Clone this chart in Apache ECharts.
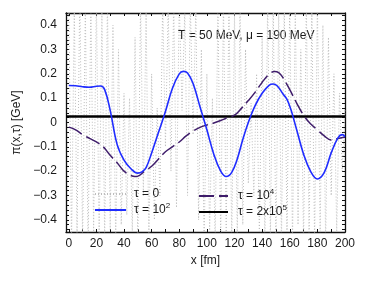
<!DOCTYPE html>
<html>
<head>
<meta charset="utf-8">
<script src="https://cdn.jsdelivr.net/npm/echarts@6/dist/echarts.min.js"></script>
<style>html,body{margin:0;padding:0;background:#fff;}#c{width:374px;height:281px;}</style>
</head>
<body>
<div id="c"></div>
<script>
// ---- data ----
const xTickLabels = [0, 20, 40, 60, 80, 100, 120, 140, 160, 180, 200];
const yTickLabels = [-0.4, -0.3, -0.2, -0.1, 0, 0.1, 0.2, 0.3, 0.4];

const tau0X = [0,2,4,6,8,10,12,14,16,18,20,22,24,26,28,30,32,34,36,
  38,40,42,44,46,48,50,52,54,56,58,60,62,64,66,
  68,70,72,74,76,78,80,82,84,86,88,90,92,94,96,98,100,102,104,
  106,108,110,112,114,116,118,120,122,124,126,128,
  130,132,134,136,138,140,
  142,144,146,148,150,152,154,156,158,160,162,164,166,168,170,172,174,176,178,180,182,184,186,188,190,192,194,196,198,200];
const tau0Y = [0.5,-0.5,0.48,-0.46,0.55,-0.5,0.47,-0.52,0.5,-0.45,0.52,-0.5,0.46,-0.48,0.5,-0.44,0.4,-0.5,0.3,
  -0.42,0.12,-0.38,0.1,-0.45,0.35,-0.5,0.5,-0.3,0.45,-0.5,0.2,-0.4,0.06,-0.3,
  0.5,-0.1,0.48,-0.2,0.5,-0.35,0.5,0.05,0.46,-0.3,0.5,-0.05,0.48,-0.4,0.3,-0.5,0.2,-0.45,0.1,
  -0.5,0.5,-0.48,0.5,-0.45,0.5,-0.5,0.45,-0.48,0.5,-0.42,0.3,
  -0.25,0.08,-0.3,0.2,-0.46,0.35,
  -0.5,0.5,-0.48,0.5,-0.5,0.46,-0.5,0.5,-0.45,0.5,-0.5,0.48,-0.42,0.3,-0.5,0.5,-0.48,0.45,-0.5,0.5,-0.46,0.4,-0.5,0.35,-0.3,0.2,-0.45,0.12,-0.2,0.05];

const tau2X = [0,5,10,15,20,23,26,30,35,40,45,50,53,56,60,65,70,75,80,83,86,90,95,100,105,110,114,118,122,126,130,135,140,145,148,151,155,158,161,165,170,175,180,185,190,195,198,200];
const tau2Y = [0.152,0.151,0.147,0.145,0.149,0.150,0.135,0.05,-0.09,-0.155,-0.19,-0.208,-0.203,-0.185,-0.125,-0.04,0.045,0.14,0.2,0.21,0.203,0.16,0.065,-0.03,-0.13,-0.2,-0.222,-0.205,-0.15,-0.07,0.0,0.07,0.12,0.153,0.158,0.15,0.118,0.095,0.05,-0.03,-0.13,-0.2,-0.232,-0.205,-0.125,-0.062,-0.05,-0.058];

const tau4X = [0,5,10,15,20,25,30,35,40,45,48,51,55,60,65,70,75,80,85,90,95,100,105,110,115,120,125,130,135,140,145,149,152,155,160,165,170,175,180,185,190,195,200];
const tau4Y = [-0.019,-0.03,-0.05,-0.065,-0.08,-0.1,-0.135,-0.165,-0.2,-0.218,-0.222,-0.218,-0.2,-0.18,-0.15,-0.12,-0.1,-0.08,-0.055,-0.035,-0.02,-0.01,-0.002,0.008,0.02,0.03,0.058,0.09,0.125,0.165,0.198,0.21,0.205,0.185,0.135,0.08,0.03,-0.005,-0.03,-0.055,-0.072,-0.066,-0.06];

const tauBigX = [-2, 200];
const tauBigY = [0.025, 0.025];

const seriesNames = ['τ = 0', 'τ = 10{sup|2}', 'τ = 10{sup|4}', 'τ = 2x10{sup|5}'];

// ---- build ----
function pairs(xs, ys) { return xs.map((x, i) => [x, ys[i]]); }
const xMinorTicks = []; for (let i = 0; i <= 20; i++) xMinorTicks.push(i * 10);
const yMinorTicks = []; for (let i = -22; i <= 22; i++) yMinorTicks.push(+(i * 0.02).toFixed(2));

const FONT = 'Liberation Sans, Arial, Helvetica, sans-serif';
const FS = 12;
const TXT = '#1a1a1a';
const supRich = { sup: { fontSize: 8, padding: [0, 0, 8, 0], fontFamily: FONT, color: TXT } };

const chart = echarts.init(document.getElementById('c'), null, { renderer: 'canvas' });
const axisLineStyle = { color: '#111', width: 1.3 };
function fmtNum(v) { return String(v).replace('-', '−'); }

chart.setOption({
  animation: false,
  backgroundColor: '#fff',
  grid: { left: 66, right: 29, top: 13, bottom: 49, containLabel: false },
  xAxis: [
    {
      type: 'value', min: -2, max: 200, position: 'bottom',
      name: 'x [fm]', nameLocation: 'middle', nameGap: 23,
      nameTextStyle: { fontFamily: FONT, fontSize: FS, color: TXT },
      axisLine: { show: true, onZero: false, lineStyle: axisLineStyle },
      axisTick: { show: true, inside: true, length: 3, customValues: xMinorTicks, lineStyle: { color: '#111' } },
      axisLabel: { customValues: xTickLabels, margin: 6, fontFamily: FONT, fontSize: FS, color: TXT },
      splitLine: { show: false }
    },
    {
      type: 'value', min: -2, max: 200, position: 'top',
      axisLine: { show: true, onZero: false, lineStyle: axisLineStyle },
      axisTick: { show: true, inside: true, length: 3, customValues: xMinorTicks, lineStyle: { color: '#111' } },
      axisLabel: { show: false },
      splitLine: { show: false }
    }
  ],
  yAxis: [
    {
      type: 'value', min: -0.45, max: 0.45, position: 'left',
      name: 'π(x,τ) [GeV]', nameLocation: 'middle', nameGap: 43, nameRotate: 90,
      nameTextStyle: { fontFamily: FONT, fontSize: FS, color: TXT },
      axisLine: { show: true, onZero: false, lineStyle: axisLineStyle },
      axisTick: { show: true, inside: true, length: 3, customValues: yMinorTicks, lineStyle: { color: '#111' } },
      axisLabel: { customValues: yTickLabels, margin: 9, fontFamily: FONT, fontSize: FS, color: TXT, formatter: fmtNum },
      splitLine: { show: false }
    },
    {
      type: 'value', min: -0.45, max: 0.45, position: 'right',
      axisLine: { show: true, onZero: false, lineStyle: axisLineStyle },
      axisTick: { show: true, inside: true, length: 3, customValues: yMinorTicks, lineStyle: { color: '#111' } },
      axisLabel: { show: false },
      splitLine: { show: false }
    }
  ],
  legend: [
    {
      data: [seriesNames[0], seriesNames[1]], orient: 'vertical', left: 89, top: 183,
      itemWidth: 31, itemHeight: 8, itemGap: 2,
      itemStyle: { opacity: 0 },
      formatter: n => n,
      textStyle: { fontFamily: FONT, fontSize: FS, color: TXT, rich: supRich, padding: [0, 0, 0, 3] }
    },
    {
      data: [seriesNames[2], seriesNames[3]], orient: 'vertical', left: 193, top: 183,
      itemWidth: 29, itemHeight: 8, itemGap: 2,
      itemStyle: { opacity: 0 },
      formatter: n => n,
      textStyle: { fontFamily: FONT, fontSize: FS, color: TXT, rich: supRich, padding: [0, 0, 0, 5] }
    }
  ],
  graphic: [
    {
      type: 'text', left: 178, top: 30,
      style: { text: 'T = 50 MeV, μ = 190 MeV', font: FS + 'px ' + FONT, fill: TXT }
    }
  ],
  series: [
    {
      name: seriesNames[0], type: 'line', data: pairs(tau0X, tau0Y), showSymbol: false, symbol: 'none',
      lineStyle: { color: '#bdbdbd', width: 1, type: [1, 2] }, itemStyle: { color: '#bdbdbd' }, z: 1, clip: true
    },
    {
      name: seriesNames[3], type: 'line', data: pairs(tauBigX, tauBigY), showSymbol: false, symbol: 'none',
      lineStyle: { color: '#000', width: 2.5 }, itemStyle: { color: '#000' }, z: 2, clip: true
    },
    {
      name: seriesNames[2], type: 'line', data: pairs(tau4X, tau4Y), showSymbol: false, symbol: 'none', smooth: 0.4,
      lineStyle: { color: '#3f1d6b', width: 1.5, type: [15, 5] }, itemStyle: { color: '#5a3a8a' }, z: 3, clip: true
    },
    {
      name: seriesNames[1], type: 'line', data: pairs(tau2X, tau2Y), showSymbol: false, symbol: 'none', smooth: 0.4,
      lineStyle: { color: '#1f2cff', width: 1.6 }, itemStyle: { color: '#1f2cff' }, z: 4, clip: true
    }
  ]
});
</script>
</body>
</html>
